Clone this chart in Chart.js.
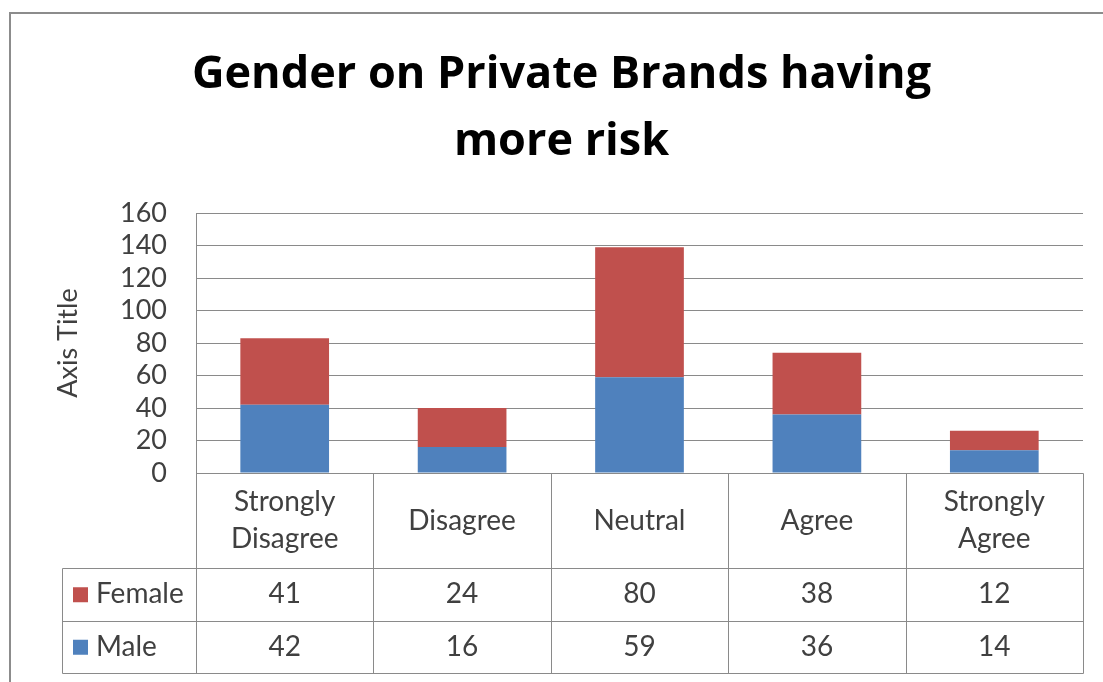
<!DOCTYPE html>
<html>
<head>
<meta charset="utf-8">
<script src="https://cdn.jsdelivr.net/npm/chart.js@4/dist/chart.umd.min.js"></script>
<style>
  html, body { margin: 0; padding: 0; background: #ffffff; }
  canvas { display: block; }
</style>
</head>
<body>
<canvas id="chart" width="1103" height="682"></canvas>
<script>
// Survey responses by gender
const categories = [['Strongly', 'Disagree'], ['Disagree'], ['Neutral'], ['Agree'], ['Strongly', 'Agree']];
const femaleValues = [41, 24, 80, 38, 12];
const maleValues = [42, 16, 59, 36, 14];
const seriesNames = ['Female', 'Male'];
const yTickValues = [0, 20, 40, 60, 80, 100, 120, 140, 160];

const FEMALE_COLOR = '#C0504D';
const MALE_COLOR = '#4F81BD';
const LINE_COLOR = '#8a8a8a';
const TEXT_COLOR = '#404040';
const FONT = 'Lato, "Open Sans", sans-serif';
const TITLE_FONT = '"Open Sans", Lato, sans-serif';

const HEADER_H = 95;     // category header row under the x axis
const ROW_H = 52.5;      // each series row of the data table
const LEGEND_LEFT = 62;  // left edge of the series-name column
const BOTTOM_GAP = 9;    // space under the data table

// Frame, background and the data table below the plot
const dataTablePlugin = {
  id: 'dataTable',
  beforeDraw(chart) {
    const ctx = chart.ctx;
    ctx.save();
    ctx.fillStyle = '#ffffff';
    ctx.fillRect(0, 0, chart.width, chart.height);
    ctx.strokeStyle = '#8c8c8c';
    ctx.lineWidth = 2;
    ctx.beginPath();
    ctx.moveTo(10, chart.height + 5);
    ctx.lineTo(10, 13);
    ctx.lineTo(chart.width + 5, 13);
    ctx.stroke();
    ctx.restore();
  },
  afterDraw(chart) {
    const ctx = chart.ctx;
    const a = chart.chartArea;
    const x = chart.scales.x;
    const n = categories.length;
    const half = (x.getPixelForValue(1) - x.getPixelForValue(0)) / 2;
    const left = Math.round(x.getPixelForValue(0) - half) + 0.5;
    const right = Math.round(x.getPixelForValue(n - 1) + half) + 0.5;
    const top = Math.round(a.bottom) + 0.5;
    const headerBottom = Math.round(a.bottom + HEADER_H) + 0.5;
    const rowLines = [headerBottom, Math.round(a.bottom + HEADER_H + ROW_H) + 0.5, Math.round(a.bottom + HEADER_H + 2 * ROW_H) + 0.5];

    ctx.save();
    ctx.strokeStyle = LINE_COLOR;
    ctx.lineWidth = 1;
    ctx.beginPath();
    // horizontal rules
    ctx.moveTo(left, top); ctx.lineTo(right, top);
    rowLines.forEach(y => { ctx.moveTo(LEGEND_LEFT + 0.5, y); ctx.lineTo(right, y); });
    // column separators
    for (let i = 0; i <= n; i++) {
      const xp = Math.round(x.getPixelForValue(0) - half + i * 2 * half) + 0.5;
      ctx.moveTo(xp, top); ctx.lineTo(xp, rowLines[2]);
    }
    ctx.moveTo(LEGEND_LEFT + 0.5, headerBottom); ctx.lineTo(LEGEND_LEFT + 0.5, rowLines[2]);
    ctx.stroke();

    // category headers
    ctx.fillStyle = TEXT_COLOR;
    ctx.font = '28px ' + FONT;
    ctx.textAlign = 'center';
    ctx.textBaseline = 'middle';
    const headerMid = (a.bottom + a.bottom + HEADER_H) / 2;
    const lh = 37;
    categories.forEach((lbl, i) => {
      const cx = x.getPixelForValue(i);
      const y0 = headerMid - (lbl.length - 1) * lh / 2;
      lbl.forEach((line, j) => ctx.fillText(line, cx, y0 + j * lh));
    });

    // series rows: legend key, name and values
    const rows = [
      { name: seriesNames[0], color: FEMALE_COLOR, values: femaleValues },
      { name: seriesNames[1], color: MALE_COLOR, values: maleValues }
    ];
    rows.forEach((row, r) => {
      const cy = a.bottom + HEADER_H + ROW_H * r + ROW_H / 2;
      ctx.fillStyle = row.color;
      ctx.fillRect(73, cy - 7, 15, 15);
      ctx.fillStyle = TEXT_COLOR;
      ctx.textAlign = 'left';
      ctx.fillText(row.name, 96, cy);
      ctx.textAlign = 'center';
      row.values.forEach((v, i) => ctx.fillText(String(v), x.getPixelForValue(i), cy));
    });
    ctx.restore();
  }
};

new Chart(document.getElementById('chart'), {
  type: 'bar',
  data: {
    labels: categories,
    datasets: [
      { label: seriesNames[1], data: maleValues, backgroundColor: MALE_COLOR, borderWidth: 0 },
      { label: seriesNames[0], data: femaleValues, backgroundColor: FEMALE_COLOR, borderWidth: 0 }
    ]
  },
  options: {
    responsive: false,
    animation: false,
    devicePixelRatio: 1,
    layout: { padding: { left: 40, right: 20, top: 12, bottom: 2 * ROW_H + BOTTOM_GAP } },
    datasets: { bar: { barPercentage: 0.5, categoryPercentage: 1.0 } },
    plugins: {
      legend: { display: false },
      tooltip: { enabled: false },
      title: {
        display: true,
        text: ['Gender on Private Brands having', 'more risk'],
        color: '#000000',
        font: { family: TITLE_FONT, size: 45, weight: 'bold', lineHeight: 1.49 },
        padding: { top: 30, bottom: 37 }
      }
    },
    scales: {
      x: {
        stacked: true,
        grid: { display: false },
        border: { display: false },
        ticks: { display: false },
        afterFit(scale) { scale.height = HEADER_H; }
      },
      y: {
        stacked: true,
        min: 0,
        max: 160,
        afterBuildTicks(scale) { scale.ticks = yTickValues.map(v => ({ value: v })); },
        grid: { color: LINE_COLOR, lineWidth: 1, drawTicks: false },
        border: { color: LINE_COLOR, width: 1 },
        ticks: { color: TEXT_COLOR, font: { family: FONT, size: 27, lineHeight: 1 }, padding: 29, autoSkip: false },
        title: {
          display: true,
          text: 'Axis Title',
          color: TEXT_COLOR,
          font: { family: FONT, size: 27 },
          padding: { top: 12, bottom: 0 }
        },
        afterFit(scale) { scale.width = 156; }
      }
    }
  },
  plugins: [dataTablePlugin]
});
</script>
</body>
</html>
